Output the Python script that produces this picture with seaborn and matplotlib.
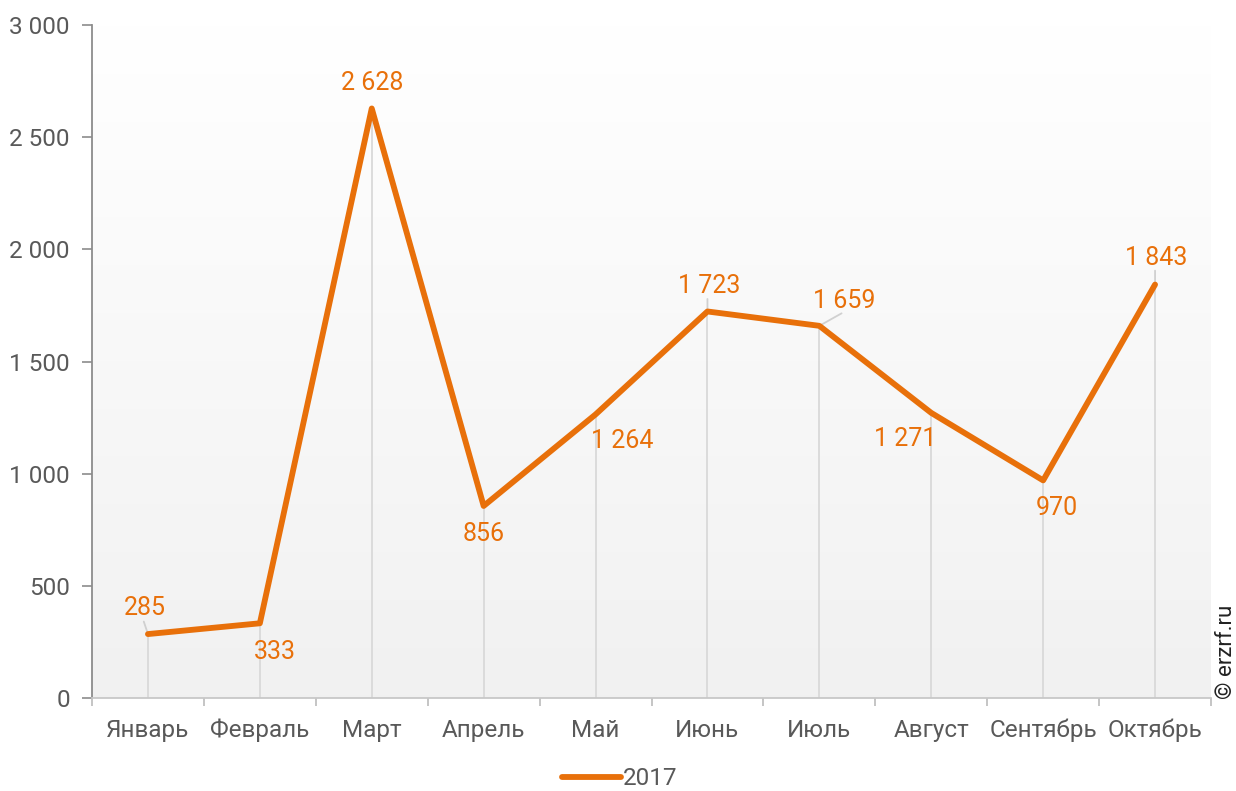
import numpy as np
import pandas as pd
import matplotlib
matplotlib.use("Agg")
import matplotlib.pyplot as plt
import seaborn as sns
from matplotlib.ticker import FuncFormatter, FixedLocator

months = ["Январь", "Февраль", "Март", "Апрель", "Май", "Июнь", "Июль",
          "Август", "Сентябрь", "Октябрь"]
values_2017 = [285, 333, 2628, 856, 1264, 1723, 1659, 1271, 970, 1843]
series_name = "2017"

# label offsets in points (dx, dy) and leader line end (offset points) or None
label_offsets = [(-2, 19), (11, -21), (0, 18), (0, -20), (19, -19),
                 (1, 18), (18, 18), (-19, -19), (10, -20), (1, 19)]
leaders = [(-3, 9), None, None, None, None,
           (0, 9), (16, 9), None, None, (0, 10)]

sns.set_theme(style="white")
plt.rcParams["font.family"] = ["Roboto", "DejaVu Sans"]

orange = "#E8700A"
text_grey = "#595959"

df = pd.DataFrame({"month": months, "value": values_2017, "series": series_name})
df["pos"] = np.arange(len(months))

fig = plt.figure(figsize=(12.36, 7.91), dpi=100)
ax = fig.add_axes([92 / 1236, 1 - 698 / 791, (1211 - 92) / 1236, (698 - 25) / 791])

# soft vertical gradient in the plot area
grad = np.linspace(1.0, 0.0, 256).reshape(-1, 1)
top_c = np.array([1.0, 1.0, 1.0])
bot_c = np.array([0.945, 0.945, 0.945])
img = grad[..., None] * top_c + (1 - grad[..., None]) * bot_c
ax.imshow(img, extent=[-0.5, 9.5, 0, 3000], aspect="auto", origin="upper", zorder=0)

# drop lines from each point to the axis
ax.vlines(df["pos"], 0, df["value"], color="#d9d9d9", lw=1.3, zorder=1)

sns.lineplot(data=df, x="pos", y="value", hue="series", palette=[orange],
             lw=4.2, ax=ax, zorder=3, legend=True)
for l in ax.get_lines():
    l.set_solid_capstyle("round")
    l.set_solid_joinstyle("round")

for x, v, (dx, dy), ld in zip(df["pos"], values_2017, label_offsets, leaders):
    txt = f"{v:,}".replace(",", " ")
    ax.annotate(txt, (x, v), xytext=(dx, dy), textcoords="offset points",
                ha="center", va="center", color=orange, fontsize=18, zorder=4)
    if ld is not None:
        ax.annotate("", (x, v), xytext=ld, textcoords="offset points",
                    arrowprops=dict(arrowstyle="-", color="#d0d0d0", lw=1.3,
                                    shrinkA=0, shrinkB=0), zorder=2)

ax.set_xlim(-0.5, 9.5)
ax.set_ylim(0, 3000)
ax.set_xlabel("")
ax.set_ylabel("")

ax.xaxis.set_major_locator(FixedLocator(df["pos"]))
ax.set_xticklabels(months)
ax.xaxis.set_minor_locator(FixedLocator(np.arange(-0.5, 10, 1)))
ax.tick_params(axis="x", which="major", length=0, pad=15, labelsize=17.5, labelcolor=text_grey)
ax.tick_params(axis="x", which="minor", length=6, width=1.3, color="#c0c0c0", direction="out", bottom=True)

ax.set_yticks(np.arange(0, 3001, 500))
ax.yaxis.set_major_formatter(FuncFormatter(lambda v, p: f"{int(v):,}".replace(",", " ")))
ax.tick_params(axis="y", length=7, width=1.2, color="#8c8c8c", direction="out", left=True,
               labelsize=17.5, labelcolor=text_grey, pad=9)

for s in ["top", "right"]:
    ax.spines[s].set_visible(False)
ax.spines["left"].set_color("#8c8c8c")
ax.spines["left"].set_linewidth(1.3)
ax.spines["bottom"].set_color("#c8c8c8")
ax.spines["bottom"].set_linewidth(1.3)

leg = ax.legend(loc="center", bbox_to_anchor=((620 - 92) / 1119, -0.12), frameon=False,
                fontsize=17.5, handlelength=2.4, handletextpad=0.1)
for t in leg.get_texts():
    t.set_color(text_grey)

fig.text(1226 / 1236, 1 - 652 / 791, "© erzrf.ru", rotation=90, ha="center", va="center",
         fontsize=16, color="#222222")

fig.savefig("out.png", dpi=100)
